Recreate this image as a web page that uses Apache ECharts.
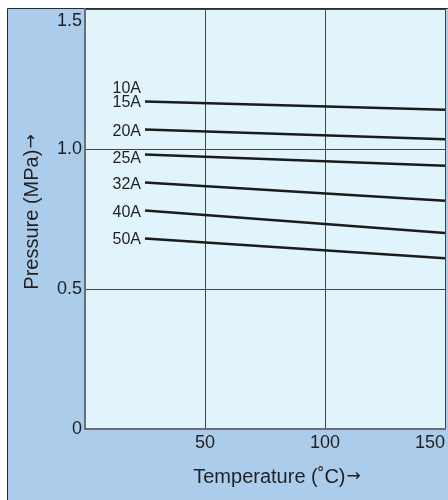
<!DOCTYPE html>
<html>
<head>
<meta charset="utf-8">
<script src="https://cdn.jsdelivr.net/npm/echarts@6/dist/echarts.min.js"></script>
<style>
  html, body { margin: 0; padding: 0; background: #ffffff; }
  #chart { width: 448px; height: 500px; }
</style>
</head>
<body>
<div id="chart"></div>
<script>
// Allowable pressure versus temperature for each nominal size
const sizeLabels = ['10A\n15A', '20A', '25A', '32A', '40A', '50A'];
const temperatures = [25, 150];              // °C, start and end of each rating line
const pressureAtStart = [1.17, 1.07, 0.98, 0.88, 0.78, 0.68];   // MPa at 25 °C
const pressureAtEnd = [1.14, 1.035, 0.94, 0.815, 0.70, 0.61];   // MPa at 150 °C
const xTicks = [0, 50, 100, 150];
const yTicks = [0, 0.5, 1.0, 1.5];

const FONT = '"Liberation Sans", Arial, Helvetica, sans-serif';
const INK = '#231f20';
const labelNudge = [-6, 2, 4, 2, 2, 1];
const arrowStyle = { fontFamily: '"DejaVu Sans", sans-serif', fontSize: 17, color: INK, padding: [0, 0, 0, 1] };

const chart = echarts.init(document.getElementById('chart'), null, { renderer: 'canvas' });

const series = sizeLabels.map((name, i) => ({
  name: name,
  type: 'line',
  silent: true,
  showSymbol: true,
  symbol: 'circle',
  symbolSize: 0,
  lineStyle: { color: '#1b1b1b', width: 2.5 },
  label: { show: false },
  data: [
    {
      value: [temperatures[0], pressureAtStart[i]],
      label: {
        show: true,
        position: 'left',
        distance: 4,
        offset: [0, labelNudge[i]],
        formatter: name,
        color: INK,
        fontFamily: FONT,
        fontSize: 16,
        lineHeight: 14,
        align: 'right'
      }
    },
    { value: [temperatures[1], pressureAtEnd[i]] }
  ],
  z: 5
}));

chart.setOption({
  animation: false,
  backgroundColor: '#ffffff',
  graphic: {
    elements: [{
      type: 'rect',
      z: -100,
      shape: { x: 7.5, y: 8.5, width: 460, height: 500 },
      style: { fill: '#abcdeb', stroke: '#2a2a2a', lineWidth: 1 }
    }]
  },
  grid: {
    left: 85, top: 9, width: 365, height: 420,
    show: true,
    backgroundColor: '#e1f3fb',
    borderWidth: 0
  },
  xAxis: {
    type: 'value',
    min: xTicks[0],
    max: xTicks[xTicks.length - 1],
    interval: xTicks[1] - xTicks[0],
    name: 'Temperature (˚C){a|→}',
    nameLocation: 'middle',
    nameGap: 38,
    nameTextStyle: {
      color: INK, fontFamily: FONT, fontSize: 20, padding: [0, 0, 0, 24],
      rich: { a: arrowStyle }
    },
    axisLine: { show: true, lineStyle: { color: '#6b6f75', width: 2 } },
    axisTick: { show: false },
    axisLabel: {
      color: INK, fontFamily: FONT, fontSize: 18, margin: 5,
      showMinLabel: false,
      alignMaxLabel: 'right',
      formatter: v => (v === 0 ? '' : String(v))
    },
    splitLine: { show: true, lineStyle: { color: '#444444', width: 1 } }
  },
  yAxis: {
    type: 'value',
    min: yTicks[0],
    max: yTicks[yTicks.length - 1],
    interval: yTicks[1] - yTicks[0],
    name: 'Pressure (MPa){a|→}',
    nameLocation: 'middle',
    nameGap: 43,
    nameTextStyle: {
      color: INK, fontFamily: FONT, fontSize: 20, padding: [0, 0, 0, 14],
      rich: { a: arrowStyle }
    },
    axisLine: { show: true, lineStyle: { color: '#6b6f75', width: 2 } },
    axisTick: { show: false },
    axisLabel: {
      color: INK, fontFamily: FONT, fontSize: 18, margin: 3, lineHeight: 24,
      verticalAlignMaxLabel: 'top',
      formatter: v => (v === 0 ? '0' : v.toFixed(1))
    },
    splitLine: { show: true, lineStyle: { color: '#444444', width: 1 } }
  },
  series: series
});
</script>
</body>
</html>
